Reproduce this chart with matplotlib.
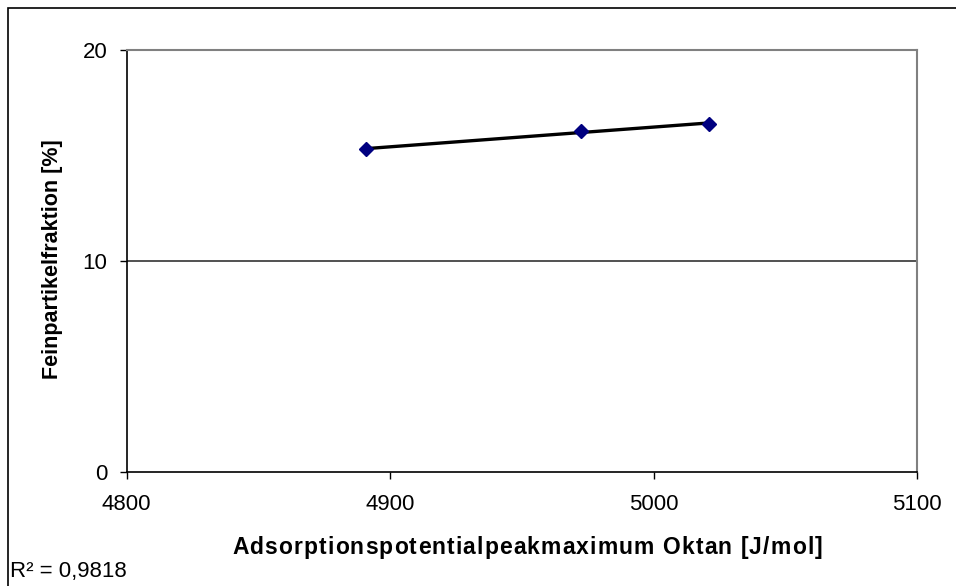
import matplotlib as mpl
mpl.use('Agg')
import numpy as np
import matplotlib.pyplot as plt
from matplotlib.patches import Rectangle
from matplotlib.font_manager import FontProperties, findfont, get_font

plt.rcParams['font.family'] = ['Liberation Sans', 'DejaVu Sans']

# Messwerte
adsorption = [4891, 4972.5, 5021]
feinpartikel = [15.3, 16.15, 16.5]
x_label = 'Adsorptionspotentialpeakmaximum Oktan [J/mol]'
y_label = 'Feinpartikelfraktion [%]'
r2_text = 'R² = 0,9818'

W, H = 956, 586
fig = plt.figure(figsize=(W / 100, H / 100), dpi=100)
ax = fig.add_axes([0.1325, 0.195, 0.8267, 0.7197])

# lineare Trendlinie
k, d = np.polyfit(adsorption, feinpartikel, 1)
xs = np.array([adsorption[0], adsorption[-1]])
ax.plot(xs, k * xs + d, color='black', lw=2.4, zorder=3)
ax.plot(adsorption, feinpartikel, linestyle='none', marker='D', markersize=7.5,
        color='#000080', zorder=4)

ax.set_xlim(4800, 5100)
ax.set_ylim(0, 20)
ax.set_xticks([4800, 4900, 5000, 5100])
ax.set_yticks([0, 10, 20])
ax.axhline(10, color='#222222', lw=1.1, zorder=1)

ax.spines['top'].set_color('#808080')
ax.spines['right'].set_color('#808080')
ax.spines['top'].set_linewidth(1.5)
ax.spines['right'].set_linewidth(1.5)
ax.spines['left'].set_linewidth(1.2)
ax.spines['bottom'].set_linewidth(1.2)
ax.tick_params(direction='out', length=5, width=1, labelsize=16)
ax.tick_params(axis='y', pad=9)
ax.tick_params(axis='x', pad=11)


def gesperrt(text, cx, cy, breite, size):
    # Text mit Zeichenabstand (wie im Excel-Diagramm) zentriert setzen
    fp = FontProperties(family='Liberation Sans', weight='bold', size=size)
    font = get_font(findfont(fp))
    font.set_size(size, 100)
    adv = [font.load_char(ord(c)).linearHoriAdvance / 65536 for c in text]
    extra = (breite - sum(adv)) / max(len(text) - 1, 1)
    pos = -breite / 2
    for c, a in zip(text, adv):
        fig.text((cx + pos) / W, 1 - cy / H, c, fontproperties=fp,
                 ha='left', va='baseline')
        pos += a + extra


gesperrt(x_label, 527, 554, 590, 16.5)
fig.text(53 / W, 1 - 259 / H, y_label, fontsize=15.5, fontweight='bold',
         rotation=90, ha='center', va='center')

fig.text(10 / W, 1 - 572 / H, r2_text, fontsize=16, va='center', ha='left')

# Rahmen um das Diagramm
fig.patches.append(Rectangle((8 / W, -0.1), 1.2, 1 - 8 / H + 0.1,
                             transform=fig.transFigure, fill=False,
                             edgecolor='black', lw=1.2))

fig.savefig('out.png', dpi=100)
plt.close()
